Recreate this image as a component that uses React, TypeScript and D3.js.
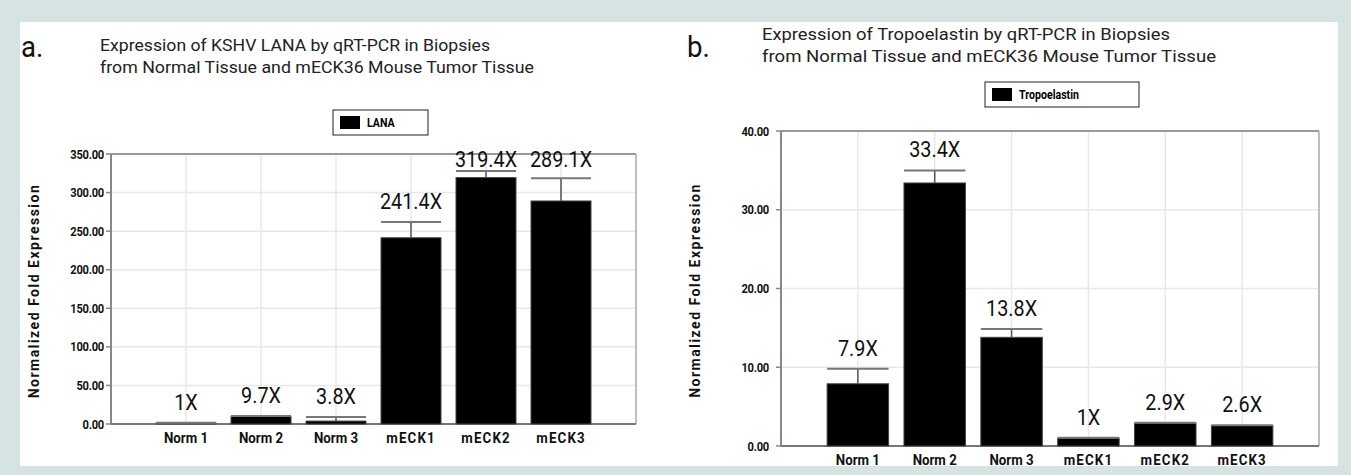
import React from 'react';
import * as d3 from 'd3';

// 数据
const categories = ['Norm 1', 'Norm 2', 'Norm 3', 'mECK1', 'mECK2', 'mECK3'];
const lanaValues = [1, 9.7, 3.8, 241.4, 319.4, 289.1];
const lanaErrors = [0.5, 0.8, 5.2, 20.6, 8.6, 29.5];
const lanaLabels = ['1X', '9.7X', '3.8X', '241.4X', '319.4X', '289.1X'];
const lanaTicks = [0, 50, 100, 150, 200, 250, 300, 350];
const tropoValues = [7.9, 33.4, 13.8, 1, 2.9, 2.6];
const tropoErrors = [1.9, 1.6, 1.06, 0.05, 0.05, 0.05];
const tropoLabels = ['7.9X', '33.4X', '13.8X', '1X', '2.9X', '2.6X'];
const tropoTicks = [0, 10, 20, 30, 40];

const NARROW = '"Liberation Sans Narrow", "Arial Narrow", Roboto, sans-serif';
const SANS = 'Roboto, "Liberation Sans", Arial, sans-serif';

// 压窄文字（没有窄体字体时用 scaleX）
function NText(props: any) {
  const { x, y, sx = 1, children, ...rest } = props;
  return (
    <text transform={`translate(${x},${y}) scale(${sx},1)`} {...rest}>
      {children}
    </text>
  );
}

type PanelProps = {
  letter: string;
  letterX: number;
  titles: string[];
  titleX: number;
  titleY: number;
  titleLen: number[];
  legend: string;
  legendBox: [number, number, number, number];
  values: number[];
  errors: number[];
  labels: string[];
  ticks: number[];
  xRange: [number, number];
  yRange: [number, number];
  yLabelX: number;
  tickGap: number;
};

function Panel(props: PanelProps) {
  const { values, errors, labels, ticks, xRange, yRange } = props;
  const x = d3.scalePoint<string>().domain(categories).range(xRange).padding(1);
  const y = d3
    .scaleLinear()
    .domain([0, d3.max(ticks) as number])
    .range(yRange);
  const barW = x.step() * 0.8;
  const [left, right] = xRange;
  const [bottom, top] = yRange;
  const [lx, ly, lw, lh] = props.legendBox;

  return (
    <g>
      <NText x={props.letterX} y={57} sx={0.92} fontFamily={SANS} fontSize={30} fill="#111">
        {props.letter}
      </NText>
      {props.titles.map((t, i) => (
        <text
          key={t}
          x={props.titleX}
          y={props.titleY + i * 22}
          fontFamily={NARROW}
          fontSize={17}
          fill="#222"
          textLength={props.titleLen[i]}
          lengthAdjust="spacingAndGlyphs"
        >
          {t}
        </text>
      ))}
      {/* 图例 */}
      <rect x={lx} y={ly} width={lw} height={lh} fill="#fff" stroke="#222" strokeWidth={1} />
      <rect x={lx + 7} y={ly + 6} width={20} height={lh - 12} fill="#000" />
      <NText x={lx + 34} y={ly + lh / 2 + 4.5} sx={0.85} fontFamily={SANS} fontSize={12.5} fontWeight="bold" fill="#000">
        {props.legend}
      </NText>
      {/* 网格 */}
      {ticks.map((t) => (
        <line key={'h' + t} x1={left} x2={right} y1={y(t)} y2={y(t)} stroke="#e8e8e8" strokeWidth={1.5} />
      ))}
      {categories.map((c) => (
        <line key={'v' + c} x1={x(c)} x2={x(c)} y1={top} y2={bottom} stroke="#e8e8e8" strokeWidth={1.5} />
      ))}
      {/* 边框 */}
      <line x1={left} x2={right} y1={top} y2={top} stroke="#999" strokeWidth={2} />
      <line x1={right} x2={right} y1={top} y2={bottom} stroke="#aaa" strokeWidth={1.5} />
      <line x1={left} x2={left} y1={top} y2={bottom} stroke="#888" strokeWidth={2} />
      <line x1={left} x2={right} y1={bottom} y2={bottom} stroke="#777" strokeWidth={2} />
      {ticks.map((t) => (
        <g key={'t' + t}>
          <line x1={left - 5} x2={left} y1={y(t)} y2={y(t)} stroke="#888" strokeWidth={1.5} />
          <NText
            x={left - props.tickGap}
            y={y(t) + 4.5}
            sx={0.86}
            textAnchor="end"
            fontFamily={SANS}
            fontSize={13}
            fontWeight="bold"
            letterSpacing={-0.3}
            fill="#111"
          >
            {t.toFixed(2)}
          </NText>
        </g>
      ))}
      {/* 柱子 */}
      {categories.map((c, i) => {
        const cx = x(c) as number;
        const yv = y(values[i]);
        const ye = y(values[i] + errors[i]);
        const labelY = Math.max(ye - 13, top + 13);
        return (
          <g key={'b' + c}>
            <rect x={cx - barW / 2} y={yv} width={barW} height={bottom - yv} fill="#000" stroke="#444" strokeWidth={1} />
            <line x1={cx} x2={cx} y1={yv} y2={ye} stroke="#555" strokeWidth={1.5} />
            <line x1={cx - barW / 2} x2={cx + barW / 2} y1={ye} y2={ye} stroke="#777" strokeWidth={2} />
            <NText x={cx} y={labelY} sx={0.9} textAnchor="middle" fontFamily={SANS} fontSize={22} fill="#111">
              {labels[i]}
            </NText>
            <NText
              x={cx}
              y={bottom + 19}
              sx={0.95}
              textAnchor="middle"
              fontFamily={SANS}
              fontSize={14}
              fontWeight="bold"
              letterSpacing={c.startsWith('m') ? 1.2 : 0}
              fill="#111"
            >
              {c}
            </NText>
          </g>
        );
      })}
      <text
        transform={`translate(${props.yLabelX},${(top + bottom) / 2 + 2}) rotate(-90)`}
        textAnchor="middle"
        fontFamily={SANS}
        fontSize={14}
        fontWeight="bold"
        letterSpacing={1.5}
        fill="#111"
      >
        Normalized Fold Expression
      </text>
    </g>
  );
}

export default function App() {
  return (
    <div style={{ position: 'absolute', left: 0, top: 0 }}>
      <svg width={1351} height={475} style={{ display: 'block' }}>
        <rect x={0} y={0} width={1351} height={475} fill="#d5e3e3" />
        <rect x={20} y={22} width={1318} height={444} fill="#fff" />
        <Panel
          letter="a."
          letterX={21}
          titles={['Expression of KSHV LANA by qRT-PCR in Biopsies', 'from Normal Tissue and mECK36 Mouse Tumor Tissue']}
          titleX={100}
          titleY={51}
          titleLen={[390, 434]}
          legend="LANA"
          legendBox={[333, 110, 95, 25]}
          values={lanaValues}
          errors={lanaErrors}
          labels={lanaLabels}
          ticks={lanaTicks}
          xRange={[111, 636]}
          yRange={[424, 154]}
          yLabelX={39}
          tickGap={7}
        />
        <Panel
          letter="b."
          letterX={687}
          titles={['Expression of Tropoelastin by qRT-PCR in Biopsies', 'from Normal Tissue and mECK36 Mouse Tumor Tissue']}
          titleX={762}
          titleY={40}
          titleLen={[408, 454]}
          legend="Tropoelastin"
          legendBox={[985, 82, 154, 25]}
          values={tropoValues}
          errors={tropoErrors}
          labels={tropoLabels}
          ticks={tropoTicks}
          xRange={[781, 1319]}
          yRange={[446, 131]}
          yLabelX={700}
          tickGap={12}
        />
      </svg>
    </div>
  );
}
